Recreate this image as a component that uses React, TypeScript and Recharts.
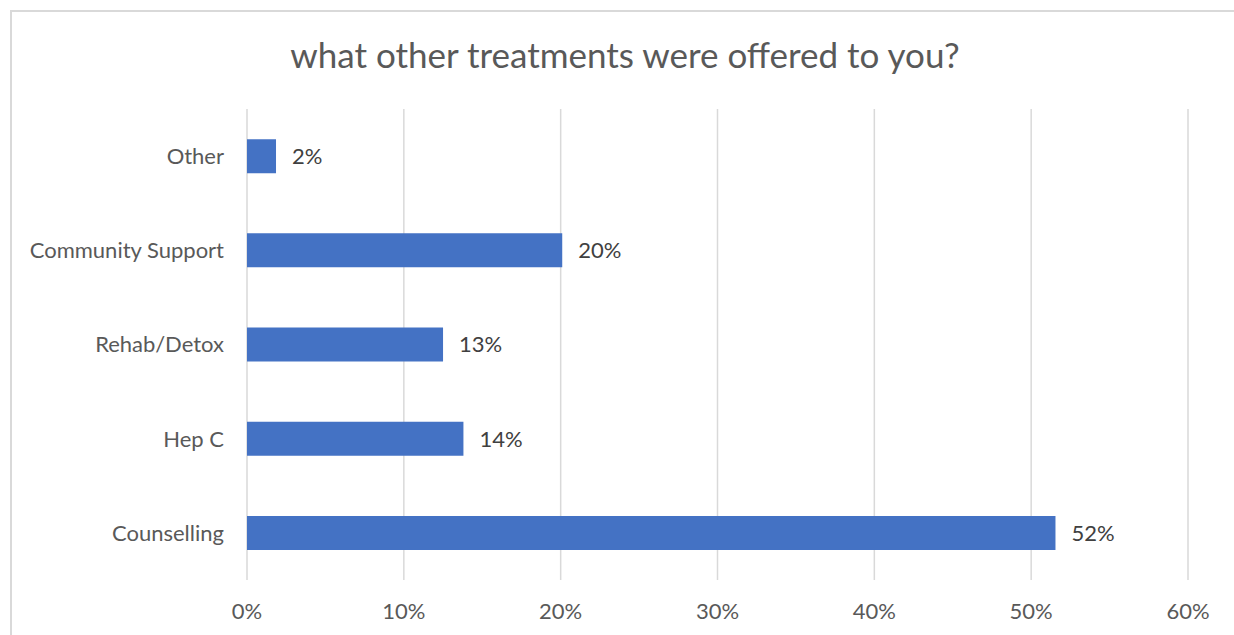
import React from "react";
import { BarChart, Bar, XAxis, YAxis, CartesianGrid, LabelList } from "recharts";

const categories = ["Other", "Community Support", "Rehab/Detox", "Hep C", "Counselling"];
const values = [0.0185, 0.201, 0.125, 0.138, 0.5155];
const labels = ["2%", "20%", "13%", "14%", "52%"];
const xTicks = [0, 0.1, 0.2, 0.3, 0.4, 0.5, 0.6];
const title = "what other treatments were offered to you?";

const data = categories.map((c, i) => ({ name: c, value: values[i], label: labels[i] }));

const FONT = "Lato, 'Open Sans', sans-serif";

export default function App() {
  return (
    <div style={{ position: "absolute", left: 0, top: 0, width: 1234, height: 635, background: "#fff", overflow: "hidden", fontFamily: FONT }}>
      <div
        style={{
          position: "absolute",
          left: 10,
          top: 10,
          width: 1240,
          height: 640,
          borderLeft: "2px solid #d9d9d9",
          borderTop: "2px solid #d9d9d9",
          boxSizing: "border-box",
        }}
      />
      <div
        style={{
          position: "absolute",
          left: 0,
          top: 32,
          width: 1250,
          textAlign: "center",
          fontSize: 35,
          color: "#595959",
          lineHeight: "44px",
        }}
      >
        {title}
      </div>
      <div style={{ position: "absolute", left: 0, top: 0 }}>
        <BarChart
          width={1234}
          height={635}
          data={data}
          layout="vertical"
          margin={{ top: 109, right: 46, bottom: 0, left: 0 }}
          barCategoryGap="32%"
        >
          <CartesianGrid horizontal={false} vertical={true} stroke="#d9d9d9" strokeWidth={1.5} />
          <XAxis
            type="number"
            domain={[0, 0.6]}
            ticks={xTicks}
            tickFormatter={(v: number) => `${Math.round(v * 100)}%`}
            axisLine={false}
            tickLine={false}
            tickSize={0}
            tickMargin={23}
            height={55}
            tick={{ fill: "#595959", fontSize: 22, fontFamily: FONT }}
            interval={0}
          />
          <YAxis
            type="category"
            dataKey="name"
            width={247}
            axisLine={false}
            tickLine={false}
            tickSize={0}
            tickMargin={23}
            tick={{ fill: "#595959", fontSize: 22, fontFamily: FONT }}
            interval={0}
          />
          <Bar dataKey="value" fill="#4472c4" isAnimationActive={false}>
            <LabelList dataKey="label" position="right" offset={16} fill="#404040" fontSize={22} fontFamily={FONT} />
          </Bar>
        </BarChart>
      </div>
    </div>
  );
}
